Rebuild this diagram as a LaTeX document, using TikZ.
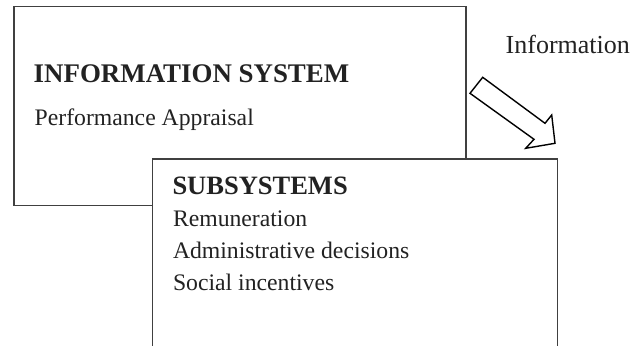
\documentclass[tikz,border=0pt]{standalone}
\usepackage{fontspec}
\setmainfont{Liberation Serif}
\definecolor{boxline}{HTML}{404040}
\definecolor{txt}{HTML}{222222}
\begin{document}
\begin{tikzpicture}[x=1pt,y=-1pt,
  boxstyle/.style={draw=boxline,line width=1.2pt},
  headtxt/.style={anchor=base west,inner sep=0pt,text=txt,font=\fontsize{26.5}{30}\selectfont\bfseries},
  bodytxt/.style={anchor=base west,inner sep=0pt,text=txt,font=\fontsize{23.7}{30}\selectfont},
  labeltxt/.style={anchor=base west,inner sep=0pt,text=txt,font=\fontsize{26}{30}\selectfont},
  flowarrow/.style={draw=black,line width=1.4pt,fill=white,line join=miter}]
\useasboundingbox (0,0) rectangle (644,345);
\clip (0,0) rectangle (644,345);
% outer box
\draw[boxstyle] (14,6.7) rectangle (466,205.5);
\node[headtxt,font=\fontsize{26.9}{30}\selectfont\bfseries] (ishead) at (33.5,82.7) {INFORMATION SYSTEM};
\node[bodytxt] (pa) at (34.5,125.7) {Performance Appraisal};
% subsystems box (open at bottom)
\fill[white] (152.5,159) rectangle (557.7,360);
\draw[boxstyle] (152.5,360) -- (152.5,159) -- (557.7,159) -- (557.7,360);
\node[headtxt] (subhead) at (172.3,194.3) {SUBSYSTEMS};
\node[bodytxt] (rem) at (172.8,226.7) {Remuneration};
\node[bodytxt] (adm) at (172.8,258.3) {Administrative decisions};
\node[bodytxt] (soc) at (172.8,290) {Social incentives};
% label
\node[labeltxt] (info) at (505.5,53.3) {Information};
% block arrow
\draw[flowarrow] (470,93.3) -- (482.7,77.3) -- (545,123.3) -- (551.7,115)
  -- (555,143.3) -- (525.7,148.3) -- (534,139.3) -- cycle;
\end{tikzpicture}
\end{document}
